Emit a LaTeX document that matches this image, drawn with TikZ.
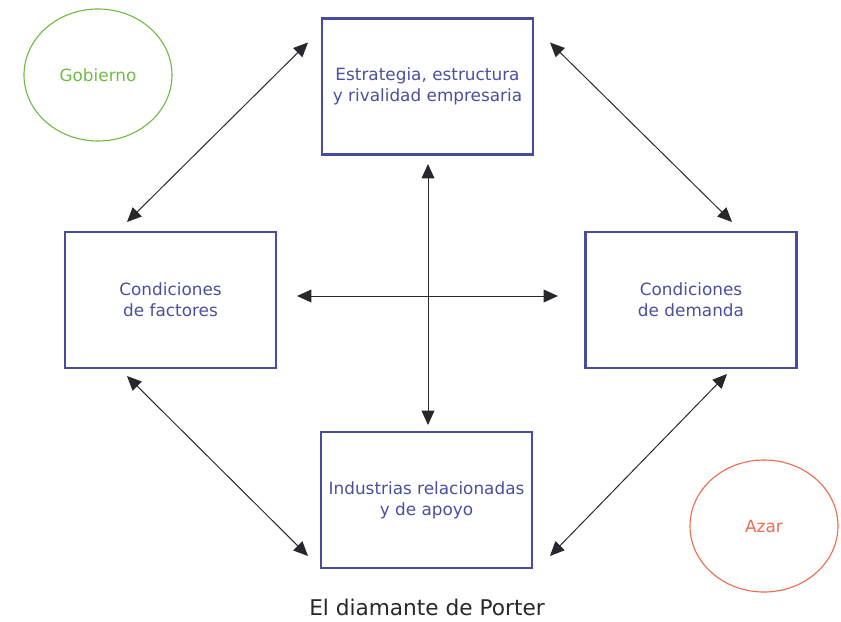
\documentclass[tikz,border=0pt]{standalone}
\usepackage{fontspec}
\setmainfont{DejaVu Sans}
\usepackage{xcolor}
\usetikzlibrary{positioning,calc,arrows.meta,shapes.geometric}

\definecolor{boxblue}{RGB}{72,76,158}
\definecolor{txtblue}{RGB}{74,79,160}
\definecolor{gobgreen}{RGB}{112,186,72}
\definecolor{azarred}{RGB}{238,108,78}
\definecolor{arrgray}{RGB}{40,40,44}

\begin{document}
\begin{tikzpicture}[
    factor/.style={draw=boxblue, line width=1.5pt, minimum width=5.275cm, minimum height=3.4cm,
        inner sep=0pt, outer sep=0pt, align=center, text=txtblue, font=\fontsize{12}{15}\selectfont},
    extra/.style={ellipse, line width=0.8pt, minimum width=3.7cm, minimum height=3.3cm,
        inner sep=0pt, font=\fontsize{12}{14}\selectfont},
    link/.style={draw=arrgray, line width=0.7pt,
        {Triangle[length=0.36cm,width=0.32cm]}-{Triangle[length=0.36cm,width=0.32cm]}}
]
    \useasboundingbox (0,0) rectangle (21.025,15.525);

    % Four determinants
    \node[factor] (estr) at (10.6875,13.3625) {Estrategia, estructura\\y rivalidad empresaria};
    \node[factor] (fac) at (4.2625,8.025) {Condiciones\\de factores};
    \node[factor] (dem) at (17.275,8.025) {Condiciones\\de demanda};
    \node[factor] (ind) at (10.6625,3.025) {Industrias relacionadas\\y de apoyo};

    % Outside forces
    \node[extra, draw=gobgreen, text=gobgreen] (gob) at (2.45,13.65) {Gobierno};
    \node[extra, draw=azarred, text=azarred] (azar) at (19.1,2.375) {Azar};

    % Diagonal links
    \draw[link] ([xshift=-1.0875cm,yshift=0.25cm]fac.north) -- ([xshift=-0.35cm,yshift=-0.6cm]estr.north west);
    \draw[link] ([xshift=0.425cm,yshift=-0.6cm]estr.north east) -- ([xshift=1.025cm,yshift=0.25cm]dem.north);
    \draw[link] ([xshift=-1.0875cm,yshift=-0.2cm]fac.south) -- ([xshift=-0.325cm,yshift=0.3cm]ind.south west);
    \draw[link] ([xshift=0.45cm,yshift=0.3cm]ind.south east) -- ([xshift=0.9cm,yshift=-0.15cm]dem.south);

    % Cross in the middle
    \coordinate (cen) at (10.7,8.125);
    \draw[link] ([xshift=-3.275cm]cen) -- ([xshift=3.25cm]cen);
    \draw[link] ([yshift=3.3cm]cen) -- ([yshift=-3.225cm]cen);

    % Caption
    \node[text=arrgray, font=\fontsize{15.4}{18}\selectfont] (cap) at (10.675,0.35) {El diamante de Porter};

\end{tikzpicture}
\end{document}
